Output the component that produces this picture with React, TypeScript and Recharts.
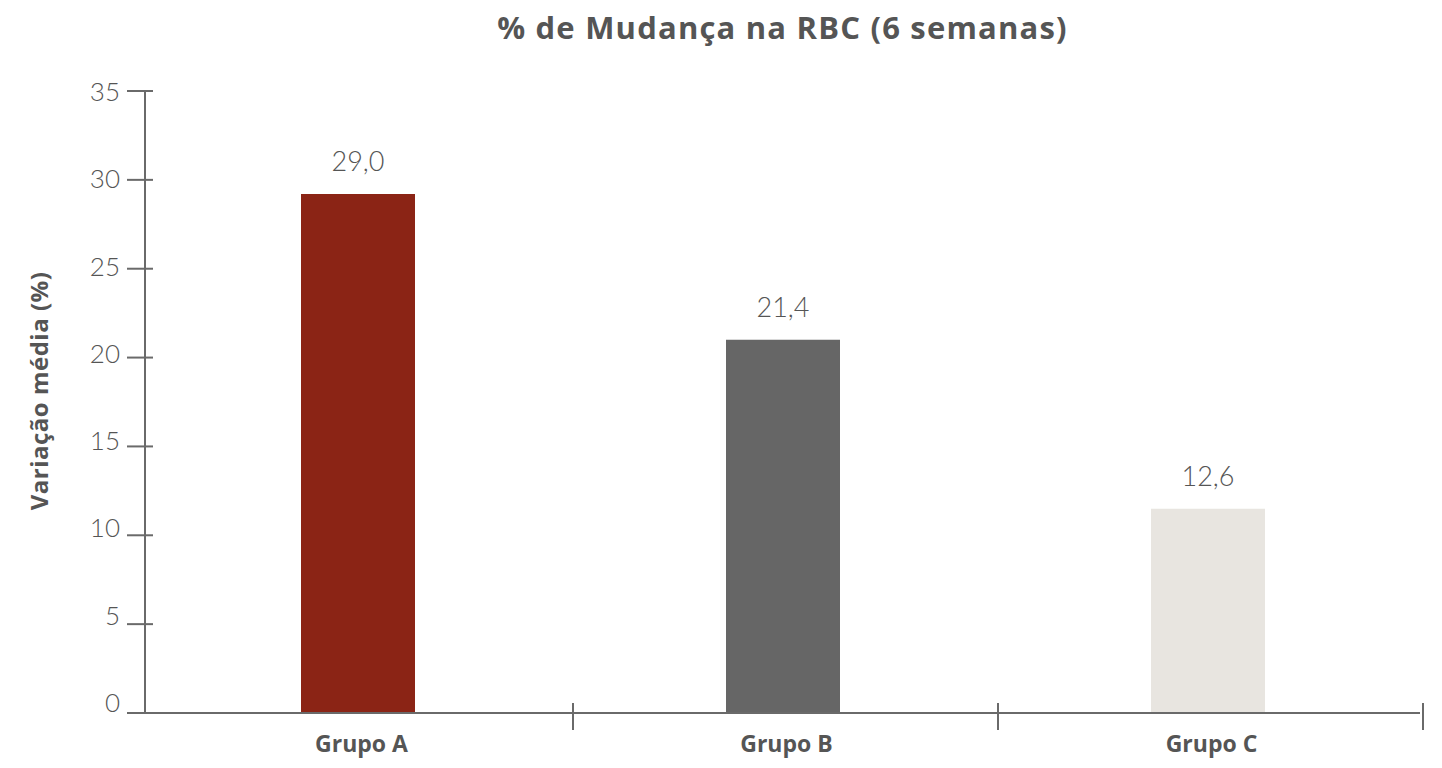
import React from 'react';
import { BarChart, Bar, XAxis, YAxis, LabelList, Cell } from 'recharts';

const categories = ['Grupo A', 'Grupo B', 'Grupo C'];
// bar heights as drawn; printed labels differ slightly from the drawn heights
const barValues = [29.2, 21.0, 11.5];
const valueLabels = ['29,0', '21,4', '12,6'];
const barColors = ['#8B2415', '#666666', '#E8E5E0'];
const yTicks = [0, 5, 10, 15, 20, 25, 30, 35];

const data = categories.map((name, i) => ({ name, value: barValues[i], label: valueLabels[i] }));

const CHART_W = 1442;
const CHART_H = 768;
const MARGIN = { top: 91, right: 22, bottom: 5, left: 0 };
const Y_AXIS_W = 145;
const BAND = (CHART_W - MARGIN.left - MARGIN.right - Y_AXIS_W) / categories.length;

const LIGHT = 'Lato, "Open Sans", sans-serif';
const BOLD = '"Open Sans", Lato, sans-serif';
const TEXT = '#555555';
const AXIS = '#6a6a6a';
const yMax = yTicks[yTicks.length - 1];

const YTick: React.FC<any> = ({ x, y, payload }) => {
  const v = payload.value;
  const shift = -((yMax - v) / yMax) * 11;
  return (
    <g>
      <line x1={x - 18} x2={x + 8} y1={y} y2={y} stroke={AXIS} strokeWidth={2} />
      <text x={x - 25} y={y + shift} textAnchor="end" dominantBaseline="central" fontSize={26} fill={TEXT} fontFamily={LIGHT} fontWeight={300}>
        {v}
      </text>
    </g>
  );
};

// category label plus the divider tick at the right edge of each band
const XTick: React.FC<any> = ({ x, y, payload }) => {
  const bx = x + BAND / 2 + 3;
  return (
    <g>
      <line x1={bx} x2={bx} y1={y - 10} y2={y + 17} stroke={AXIS} strokeWidth={2} />
      <text x={x + 4} y={y + 39} textAnchor="middle" fontSize={23} fontWeight={700} fill={TEXT} fontFamily={BOLD}>
        {payload.value}
      </text>
    </g>
  );
};

const YLabel: React.FC<any> = ({ viewBox }) => {
  const cx = viewBox.x + 38;
  const cy = viewBox.y + viewBox.height / 2 - 11;
  return (
    <text x={cx} y={cy} transform={`rotate(-90 ${cx} ${cy})`} textAnchor="middle" dominantBaseline="central" fontSize={24} letterSpacing={0.5} fontWeight={700} fill={TEXT} fontFamily={BOLD}>
      Variação média (%)
    </text>
  );
};

export default function App() {
  return (
    <div style={{ position: 'absolute', left: 0, top: 0, width: CHART_W, height: CHART_H, background: '#fff' }}>
      <div
        style={{
          position: 'absolute',
          left: Y_AXIS_W,
          top: 10,
          width: BAND * categories.length,
          textAlign: 'center',
          fontSize: 31,
          letterSpacing: 1.2,
          lineHeight: '34px',
          fontWeight: 700,
          color: TEXT,
          fontFamily: BOLD,
        }}
      >
        % de Mudança na RBC (6 semanas)
      </div>
      <BarChart width={CHART_W} height={CHART_H} data={data} margin={MARGIN}>
        <XAxis
          dataKey="name"
          axisLine={{ stroke: AXIS, strokeWidth: 2 }}
          tickLine={false}
          tickSize={0}
          tickMargin={0}
          height={50}
          interval={0}
          tick={<XTick />}
        />
        <YAxis
          domain={[0, yMax]}
          ticks={yTicks}
          width={Y_AXIS_W}
          axisLine={{ stroke: AXIS, strokeWidth: 2 }}
          tickLine={false}
          tickSize={0}
          tickMargin={0}
          interval={0}
          tick={<YTick />}
          label={<YLabel />}
        />
        <Bar dataKey="value" barSize={114} isAnimationActive={false}>
          {data.map((d, i) => (
            <Cell key={d.name} fill={barColors[i]} />
          ))}
          <LabelList dataKey="label" position="top" offset={23} fontSize={27} fill={TEXT} fontFamily={LIGHT} fontWeight={300} />
        </Bar>
      </BarChart>
    </div>
  );
}
